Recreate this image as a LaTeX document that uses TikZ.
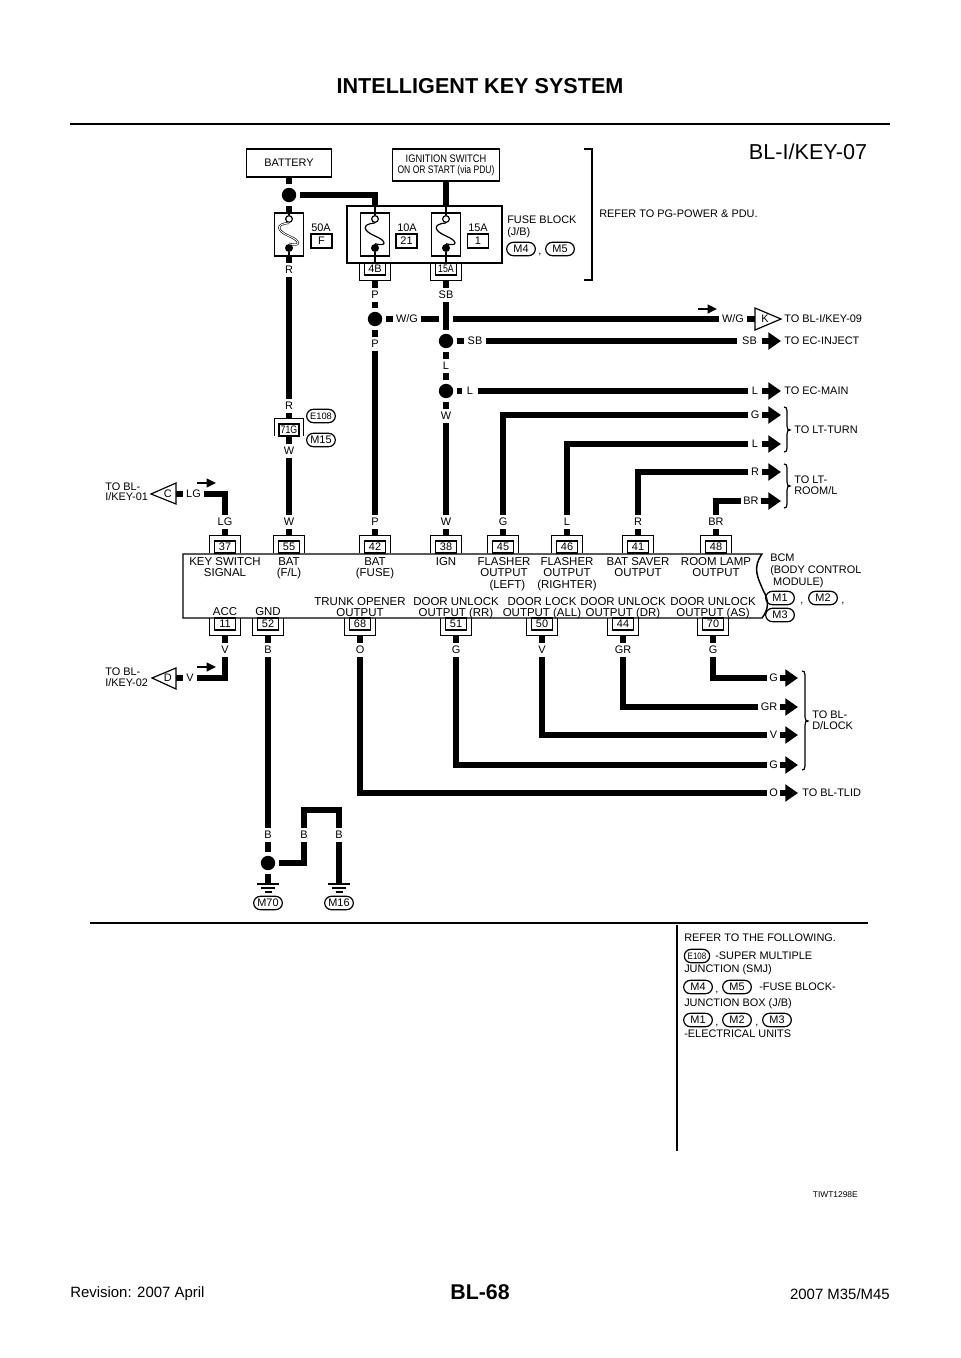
\documentclass[tikz,border=0pt]{standalone}
\usepackage{fontspec}
\setmainfont{Liberation Sans}
\usetikzlibrary{arrows.meta}
\newcommand{\fa}{\fontsize{8.2}{9}\selectfont}
\newcommand{\fb}{\fontsize{8.6}{8.7}\selectfont}
\tikzset{
 wire/.style={line width=5.2pt,line cap=butt,line join=miter},
 fat/.style={line width=4pt,-{Triangle[length=9.5pt,width=12.5pt]}},
 small/.style={line width=1.6pt,-{Triangle[length=7pt,width=6.5pt]}},
 thin line/.style={line width=0.9pt},
 box/.style={draw,line width=0.85pt,inner sep=0pt,font=\fa,text height=5.8pt,text depth=0pt},
 dot/.style={circle,fill=black,inner sep=0pt,minimum size=10.8pt,outer sep=3pt},
 oval/.style={draw,line width=0.9pt,rounded corners=5pt,minimum width=21.5pt,minimum height=10pt,inner sep=0pt,font=\fa,text height=5.8pt,text depth=0pt},
 lab/.style={inner sep=0pt,font=\fa,text height=5.8pt,text depth=0pt},
 bt/.style={inner sep=0pt,font=\fb,align=center,anchor=north},
 nb/.style={inner sep=0pt,font=\fa,align=left,anchor=north west},
}
% name, x, y, half width, text
\newcommand{\WL}[5]{\node[lab,minimum width=2*#4*0.75pt,minimum height=10.5pt] (#1) at (#2,#3) {#5};}
% name, x, top of outer, text, outer width, inner width
\newcommand{\CT}[6]{%
 \node[inner sep=0pt,minimum width=#5*0.75pt,minimum height=12.75pt] (#1) at (#2,#3+8.5) {};
 \node[box,minimum width=#6*0.75pt,minimum height=9pt] (#1i) at (#2,#3+11) {#4};
 \draw[thin line] (#1.south west) -- (#1.north west) -- (#1.north east) -- (#1.south east);}
\newcommand{\CB}[6]{%
 \node[inner sep=0pt,minimum width=#5*0.75pt,minimum height=12.75pt] (#1) at (#2,#3+8.5) {};
 \node[box,minimum width=#6*0.75pt,minimum height=9pt] (#1i) at (#2,#3+6) {#4};
 \draw[thin line] (#1.north west) -- (#1.south west) -- (#1.south east) -- (#1.north east);}
% name, x, extra draw options
\newcommand{\Fuse}[3]{%
 \node[box,minimum width=21.75pt,minimum height=32.25pt] (#1) at (#2,234.5) {};
 \node[circle,draw,line width=0.9pt,fill=white,inner sep=0pt,minimum size=5pt] (#1o) at (#2,219) {};
 \node[circle,fill=black,inner sep=0pt,minimum size=6pt] (#1f) at (#2,248) {};
 \draw[#3] (#1o.south) .. controls (#2-14,224) and (#2-12,231) .. (#2,236) .. controls (#2+12,241) and (#2+12,247) .. (#1f.north);}
\newcommand{\Gnd}[2]{%
 \coordinate (#1) at (#2,884);
 \draw[line width=1.1pt] (#2-11,884) -- (#2+11,884) (#2-7,888) -- (#2+7,888) (#2-3.5,892) -- (#2+3.5,892);}
\begin{document}
\begin{tikzpicture}[x=0.75pt,y=-0.75pt]
\useasboundingbox (0,0) rectangle (960,1358);
% header / footer
\node[inner sep=0pt,font=\fontsize{16.2}{18}\selectfont\bfseries] (title) at (480,86) {INTELLIGENT KEY SYSTEM};
\coordinate (rl1) at (70,124); \coordinate (rl2) at (890,124);
\draw[line width=2.2pt] (rl1) -- (rl2);
\node[inner sep=0pt,font=\fontsize{16.2}{18}\selectfont] (page) at (808,152) {BL-I/KEY-07};
\node[inner sep=0pt,font=\fontsize{16}{18}\selectfont\bfseries] (pgno) at (480,1292) {BL-68};
\node[inner sep=0pt,anchor=west,font=\fontsize{11.2}{12}\selectfont] (rev) at (70,1294) {Revision: 2007 April};
\node[inner sep=0pt,anchor=east,font=\fontsize{11.2}{12}\selectfont] (mod) at (890,1294) {2007 M35/M45};
% top boxes
\node[box,minimum width=63.75pt,minimum height=21pt] (bat) at (289,163) {BATTERY};
\node[draw,line width=0.85pt,inner sep=0pt,minimum width=80.25pt,minimum height=24pt,font=\fa,align=center] (ign) at (446,165) {\scalebox{.85}[1]{IGNITION SWITCH}\\[-0.6pt]\scalebox{.78}[1]{ON OR START (via PDU)}};
\node[box,minimum width=116.25pt,minimum height=42.75pt] (blk) at (424.5,234.5) {};
\Fuse{fF}{289}{double,line width=0.45pt,double distance=0.7pt}
\Fuse{f2}{375}{thin line}
\Fuse{f3}{446}{thin line}
\draw[thin line] (fFo.north) -- (fF.north);
\draw[thin line] (f2o.north) -- (f2o.north |- blk.north);
\draw[thin line] (f3o.north) -- (f3o.north |- blk.north);
\draw[thin line] (f2f.south) -- (f2f.south |- blk.south);
\draw[thin line] (f3f.south) -- (f3f.south |- blk.south);
\draw[thin line] (fFf.south) -- (fF.south);
\node[lab] (a50) at (321,228) {50A};
\node[box,minimum width=15.75pt,minimum height=10.5pt] (bF) at (321.5,241) {F};
\node[lab] (a10) at (407,228) {10A};
\node[box,minimum width=15.75pt,minimum height=10.5pt] (b21) at (406.5,241) {21};
\node[lab] (a15) at (478,228) {15A};
\node[box,minimum width=15.75pt,minimum height=10.5pt] (b1) at (478,241) {1};
\node[lab,anchor=west] (fb1) at (507,220) {FUSE BLOCK};
\node[lab,anchor=west] (fb2) at (507,232) {(J/B)};
\node[oval] (oM4) at (521,249) {M4};
\node[lab] (cm1) at (540,251) {,};
\node[oval] (oM5) at (560,249) {M5};
\coordinate (br1) at (584,149); \coordinate (br2) at (592,149); \coordinate (br3) at (592,280); \coordinate (br4) at (584,280);
\draw[thin line] (br1) -- (br2) -- (br3) -- (br4);
\node[lab,anchor=west] (refpg) at (599,214) {REFER TO PG-POWER \& PDU.};
% dots and labels
\node[dot] (dA) at (289,195) {};
\node[dot] (dP) at (375,319) {};
\node[dot] (dS) at (446,341) {};
\node[dot] (dL) at (446,391) {};
\node[dot] (dG) at (268,863) {};
\coordinate (bA) at (375,206); \coordinate (bB) at (446,206);
\draw[wire] (bat) -- (dA);
\draw[wire] (dA) -- (fF);
\draw[wire] (dA) -| (bA);
\draw[wire] (bB |- ign.south) -- (bB);
\CB{c4B}{375}{263}{4B}{31}{21}
\CB{c15}{446}{263}{\scalebox{.8}[1]{15A}}{31}{21}
\CT{c71}{289}{419}{\scalebox{.8}[1]{71G}}{28}{20}
\WL{lR1}{289}{270}{6}{R}
\WL{lR2}{289}{406}{6}{R}
\WL{lW1}{289}{451}{6}{W}
\WL{lW2}{289}{522}{6}{W}
\node[oval,font=\fontsize{7}{8}\selectfont] (oE108) at (321,416) {E108};
\node[oval] (oM15) at (321,440) {M15};
\WL{lP1}{375}{295}{6}{P}
\WL{lP2}{375}{344}{6}{P}
\WL{lP3}{375}{522}{6}{P}
\WL{lSB1}{446}{295}{9}{SB}
\WL{lL1}{446}{366}{6}{L}
\WL{lW3}{446}{416}{6}{W}
\WL{lW4}{446}{522}{6}{W}
\node[inner sep=0pt,minimum size=10.5pt] (jmp) at (446,319) {};
\WL{lWG1}{407}{319}{14}{W/G}
\WL{lWG2}{733}{319}{14}{W/G}
\WL{lSB2}{475}{341}{11}{SB}
\WL{lSB3}{749.5}{341}{12.5}{SB}
\WL{lL2}{470}{391}{7.5}{L}
\WL{lL3}{755}{391}{7}{L}
\WL{lG1}{503}{522}{6}{G}
\WL{lG2}{755}{415}{7}{G}
\WL{lL4}{567}{522}{6}{L}
\WL{lL5}{755}{444}{7}{L}
\WL{lR3}{638}{522}{6}{R}
\WL{lR4}{755}{472}{7}{R}
\WL{lBR1}{716}{522}{9}{BR}
\WL{lBR2}{751}{501}{10}{BR}
\WL{lLG1}{193.5}{494}{10.5}{LG}
\WL{lLG2}{225}{522}{9}{LG}
\WL{lV1}{225}{650}{6}{V}
\WL{lV2}{190}{678}{7}{V}
\WL{lB1}{268}{650}{6}{B}
\WL{lB2}{268}{835}{6}{B}
\WL{lB3}{304}{835}{6}{B}
\WL{lB4}{339}{835}{6}{B}
\WL{lO1}{360}{650}{6}{O}
\WL{lO2}{773.5}{793}{6.5}{O}
\WL{lG3}{456}{650}{6}{G}
\WL{lG4}{773.5}{765}{6.5}{G}
\WL{lV3}{542}{650}{6}{V}
\WL{lV4}{773.5}{735}{6.5}{V}
\WL{lGR1}{623}{650}{9}{GR}
\WL{lGR2}{769}{707}{11}{GR}
\WL{lG5}{713}{650}{6}{G}
\WL{lG6}{773.5}{678}{6.5}{G}
% BCM
\coordinate (m1) at (183,554); \coordinate (m2) at (762,554); \coordinate (m3) at (762,618); \coordinate (m4) at (183,618);
\draw[line width=1.1pt] (m1) -- (m2) .. controls (752,568) and (758,578) .. (763,590) .. controls (770,602) and (768,610) .. (m3) -- (m4) -- cycle;
\CT{c37}{225}{536}{37}{31}{21}
\CT{c55}{289}{536}{55}{31}{21}
\CT{c42}{375}{536}{42}{31}{21}
\CT{c38}{446}{536}{38}{31}{21}
\CT{c45}{503}{536}{45}{31}{21}
\CT{c46}{567}{536}{46}{31}{21}
\CT{c41}{638}{536}{41}{31}{21}
\CT{c48}{716}{536}{48}{31}{21}
\CB{c11}{225}{618}{11}{31}{21}
\CB{c52}{268}{618}{52}{31}{21}
\CB{c68}{360}{618}{68}{31}{21}
\CB{c51}{456}{618}{51}{31}{21}
\CB{c50}{542}{618}{50}{31}{21}
\CB{c44}{623}{618}{44}{31}{21}
\CB{c70}{713}{618}{70}{31}{21}
\node[bt] (t37) at (225,557) {KEY SWITCH\\SIGNAL};
\node[bt] (t55) at (289,557) {BAT\\(F/L)};
\node[bt] (t42) at (375,557) {BAT\\(FUSE)};
\node[bt] (t38) at (446,557) {IGN};
\node[bt] (t45) at (504,557) {FLASHER\\OUTPUT\\\hspace*{5pt}(LEFT)};
\node[bt] (t46) at (567,557) {FLASHER\\OUTPUT\\(RIGHTER)};
\node[bt] (t41) at (638,557) {BAT SAVER\\OUTPUT};
\node[bt] (t48) at (716,557) {ROOM LAMP\\OUTPUT};
\node[bt] (t11) at (225,607) {ACC};
\node[bt] (t52) at (268,607) {GND};
\node[bt] (t68) at (360,597) {TRUNK OPENER\\OUTPUT};
\node[bt] (t51) at (456,597) {DOOR UNLOCK\\OUTPUT (RR)};
\node[bt] (t50) at (542,597) {DOOR LOCK\\OUTPUT (ALL)};
\node[bt] (t44) at (623,597) {DOOR UNLOCK\\OUTPUT (DR)};
\node[bt] (t70) at (713,597) {DOOR UNLOCK\\OUTPUT (AS)};
\node[nb] (tbcm) at (770,554) {BCM\\(BODY CONTROL\\\hspace*{2.2pt}MODULE)};
\node[oval] (oM1) at (780,598) {M1};
\node[lab] (cm2) at (802,600) {,};
\node[oval] (oM2) at (823,598) {M2};
\node[lab] (cm3) at (843,600) {,};
\node[oval] (oM3) at (780,615) {M3};
% vertical runs
\draw[wire] (fF) -- (lR1);
\draw[wire] (lR1) -- (lR2);
\draw[wire] (lR2) -- (c71);
\draw[wire] (c71) -- (lW1);
\draw[wire] (lW1) -- (lW2);
\draw[wire] (lW2) -- (c55);
\draw[wire] (c4B) -- (lP1);
\draw[wire] (lP1) -- (dP);
\draw[wire] (dP) -- (lP2);
\draw[wire] (lP2) -- (lP3);
\draw[wire] (lP3) -- (c42);
\draw[wire] (c15) -- (lSB1);
\draw[wire] (lSB1) -- (dS);
\draw[wire] (dS) -- (lL1);
\draw[wire] (lL1) -- (dL);
\draw[wire] (dL) -- (lW3);
\draw[wire] (lW3) -- (lW4);
\draw[wire] (lW4) -- (c38);
% horizontal runs
\draw[wire] (dP) -- (lWG1);
\draw[wire] (lWG1) -- (jmp);
\draw[wire] (jmp) -- (lWG2);
\draw[wire] (dS) -- (lSB2);
\draw[wire] (lSB2) -- (lSB3);
\draw[wire] (dL) -- (lL2);
\draw[wire] (lL2) -- (lL3);
\draw[wire] (lG1) |- (lG2);
\draw[wire] (lL4) |- (lL5);
\draw[wire] (lR3) |- (lR4);
\draw[wire] (lBR1) |- (lBR2);
\foreach \a/\b in {lG1/c45,lL4/c46,lR3/c41,lBR1/c48,lLG2/c37} \draw[wire] (\a) -- (\b);
% arrows
\coordinate (a1) at (781,341); \coordinate (a2) at (781,391); \coordinate (a3) at (781,415);
\coordinate (a4) at (781,444); \coordinate (a5) at (781,472); \coordinate (a6) at (781,501);
\draw[fat] (lSB3) -- (a1);
\draw[fat] (lL3) -- (a2);
\draw[fat] (lG2) -- (a3);
\draw[fat] (lL5) -- (a4);
\draw[fat] (lR4) -- (a5);
\draw[fat] (lBR2) -- (a6);
\coordinate (a7) at (798,678); \coordinate (a8) at (798,707); \coordinate (a9) at (798,735);
\coordinate (a10c) at (798,765); \coordinate (a11) at (798,793);
\draw[fat] (lG6) -- (a7);
\draw[fat] (lGR2) -- (a8);
\draw[fat] (lV4) -- (a9);
\draw[fat] (lG4) -- (a10c);
\draw[fat] (lO2) -- (a11);
% K flag
\node[inner sep=0pt,minimum width=19.5pt,minimum height=15pt,font=\fa,text height=5.8pt,text depth=0pt,anchor=west,text depth=0pt] (tK) at (755,319) {\hspace*{-5pt}K};
\coordinate (k1) at (755,308); \coordinate (k2) at (755,330); \coordinate (k3) at (781,319);
\draw[line width=0.9pt] (k1) -- (k3) -- (k2) -- cycle;
\draw[wire] (lWG2) -- (tK);
\coordinate (s1a) at (698,309); \coordinate (s1b) at (717,309);
\draw[small] (s1a) -- (s1b);
\node[lab,anchor=west] (tk9) at (784,319) {TO BL-I/KEY-09};
\node[lab,anchor=west] (tei) at (784,341) {TO EC-INJECT};
\node[lab,anchor=west] (tem) at (784,391) {TO EC-MAIN};
\node[lab,anchor=west] (ttu) at (794,430) {TO LT-TURN};
\node[lab,anchor=west] (trm1) at (794,480) {TO LT-};
\node[lab,anchor=west] (trm2) at (794,491) {ROOM/L};
\node[lab,anchor=west] (tdl1) at (812,715) {TO BL-};
\node[lab,anchor=west] (tdl2) at (812,726) {D/LOCK};
\node[lab,anchor=west] (ttl) at (802,793) {TO BL-TLID};
% braces
\draw[thin line] (784,407) .. controls (786,407) and (787,408) .. (787,411) -- (787,426) .. controls (787,429) and (788,430) .. (790,430) .. controls (788,430) and (787,431) .. (787,434) -- (787,448) .. controls (787,451) and (786,452) .. (784,452);
\draw[thin line] (784,464) .. controls (786,464) and (787,465) .. (787,468) -- (787,482) .. controls (787,485) and (788,486) .. (790,486) .. controls (788,486) and (787,487) .. (787,490) -- (787,504) .. controls (787,507) and (786,508) .. (784,508);
\draw[thin line] (802,671) .. controls (804,671) and (805,672) .. (805,675) -- (805,717) .. controls (805,720) and (806,721) .. (808,721) .. controls (806,721) and (805,722) .. (805,725) -- (805,766) .. controls (805,769) and (804,770) .. (802,770);
% left flags
\node[inner sep=0pt,minimum width=18pt,minimum height=15pt,font=\fa,text height=5.8pt,text depth=0pt,anchor=east] (tC) at (176,494) {\hspace*{6pt}C};
\node[inner sep=0pt,minimum width=18pt,minimum height=15pt,font=\fa,text height=5.8pt,text depth=0pt,anchor=east] (tD) at (176,678) {\hspace*{6pt}D};
\coordinate (c1) at (176,483); \coordinate (c2) at (176,504); \coordinate (c3) at (151,494);
\coordinate (d1) at (176,668); \coordinate (d2) at (176,689); \coordinate (d3) at (152,678);
\draw[line width=0.9pt] (c1) -- (c2) -- (c3) -- cycle;
\draw[line width=0.9pt] (d1) -- (d2) -- (d3) -- cycle;
\draw[wire] (lLG1) -- (tC);
\draw[wire] (lV2) -- (tD);
\draw[wire] (lLG1) -| (lLG2);
\draw[wire] (lV1) |- (lV2);
\coordinate (s2a) at (197,483); \coordinate (s2b) at (216,483);
\coordinate (s3a) at (197,667); \coordinate (s3b) at (216,667);
\draw[small] (s2a) -- (s2b);
\draw[small] (s3a) -- (s3b);
\node[lab,anchor=west] (tc1) at (105,487) {TO BL-};
\node[lab,anchor=west] (tc2) at (105,497) {I/KEY-01};
\node[lab,anchor=west] (td1) at (105,672) {TO BL-};
\node[lab,anchor=west] (td2) at (105,683) {I/KEY-02};
% lower wires
\foreach \a/\b in {c11/lV1,c52/lB1,c68/lO1,c51/lG3,c50/lV3,c44/lGR1,c70/lG5} \draw[wire] (\a) -- (\b);
\draw[wire] (lO1) |- (lO2);
\draw[wire] (lG3) |- (lG4);
\draw[wire] (lV3) |- (lV4);
\draw[wire] (lGR1) |- (lGR2);
\draw[wire] (lG5) |- (lG6);
% grounds
\Gnd{g70}{268}
\Gnd{g16}{339}
\coordinate (cG) at (320,810);
\draw[wire] (lB1) -- (lB2);
\draw[wire] (lB2) -- (dG);
\draw[wire] (dG) -- (g70);
\draw[wire] (dG) -| (lB3);
\draw[wire] (lB3) |- (cG) -| (lB4);
\draw[wire] (lB4) -- (g16);
\node[oval] (oM70) at (268,903) {M70};
\node[oval] (oM16) at (339,903) {M16};
% lower part
\coordinate (l1) at (90,923); \coordinate (l2) at (868,923);
\draw[line width=1.4pt] (l1) -- (l2);
\coordinate (v1) at (677,925); \coordinate (v2) at (677,1151);
\draw[line width=1.1pt] (v1) -- (v2);
\node[lab,anchor=west] (r1) at (684,938) {REFER TO THE FOLLOWING.};
\node[oval,minimum width=19pt,font=\fontsize{7}{8}\selectfont] (rE) at (697,956) {\scalebox{.85}[1]{E108}};
\node[lab,anchor=west] (r2) at (715,956) {-SUPER MULTIPLE};
\node[lab,anchor=west] (r3) at (684,969) {JUNCTION (SMJ)};
\node[oval] (rM4) at (698,987) {M4};
\node[lab] (cm4) at (717,989) {,};
\node[oval] (rM5) at (737,987) {M5};
\node[lab,anchor=west] (r4) at (759,987) {-FUSE BLOCK-};
\node[lab,anchor=west] (r5) at (684,1003) {JUNCTION BOX (J/B)};
\node[oval] (rM1) at (698,1020) {M1};
\node[lab] (cm5) at (717,1022) {,};
\node[oval] (rM2) at (737,1020) {M2};
\node[lab] (cm6) at (757,1022) {,};
\node[oval] (rM3) at (777,1020) {M3};
\node[lab,anchor=west] (r6) at (684,1034) {-ELECTRICAL UNITS};
\node[inner sep=0pt,anchor=east,font=\fontsize{6.3}{7}\selectfont] (code) at (858,1195) {TIWT1298E};
\end{tikzpicture}
\end{document}
